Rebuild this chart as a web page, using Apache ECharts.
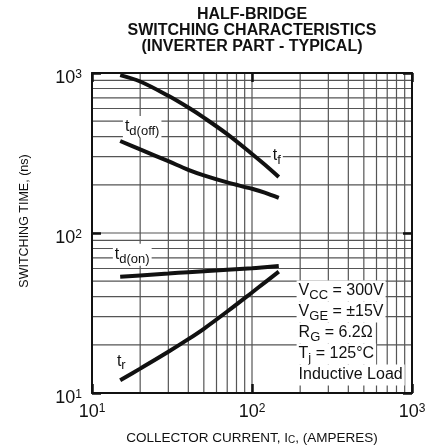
<!DOCTYPE html>
<html><head><meta charset="utf-8">
<script src="https://cdn.jsdelivr.net/npm/echarts@6/dist/echarts.min.js"></script>
<style>html,body{margin:0;padding:0;background:#fff}#c{width:438px;height:445px}</style>
</head><body><div id="c"></div>
<script>
const FONT = '"Liberation Sans", Arial, Helvetica, sans-serif';

// axes
const xRange = [10, 1000];
const yRange = [10, 1000];
const tickValues = [10, 100, 1000];
const tickExponents = ['1', '2', '3'];
const gridValues = [20, 30, 40, 50, 60, 70, 80, 90, 100, 200, 300, 400, 500, 600, 700, 800, 900];

// data (collector current in A, switching time in ns)
const current = [15, 20, 30, 40, 50, 70, 100, 120, 147];
const tf    = [970, 885, 720, 608, 526, 415, 312, 268, 224];
const tdoff = [376, 333, 281, 248, 229, 207, 189, 179, 166];
const tdon  = [53.3, 54.3, 55.8, 56.9, 57.7, 58.9, 60.2, 61.1, 62.2];
const tr    = [12.0, 14.2, 18.1, 21.7, 25.2, 32.3, 42.5, 49.0, 57.3];

const curveLabels = [
  { main: 't', sub: 'd(off)', at: [15.6, 460] },
  { main: 't', sub: 'f',      at: [131, 305] },
  { main: 't', sub: 'd(on)',  at: [13.5, 73.2] },
  { main: 't', sub: 'r',      at: [13.9, 15.8] }
];
const conditions = [
  ['V', 'CC', ' = 300V'],
  ['V', 'GE', ' = \u00b115V'],
  ['R', 'G', ' = 6.2\u03a9'],
  ['T', 'j', ' = 125\u00b0C'],
  ['Inductive Load', '', '']
];
const conditionsAt = [190, 43.4];

const chart = echarts.init(document.getElementById('c'), null, { renderer: 'canvas' });

function tickFmt(value) {
  const i = tickValues.findIndex(v => Math.abs(Math.log10(v) - Math.log10(value)) < 1e-6);
  return '{b|10}{s|' + (i >= 0 ? tickExponents[i] : '') + '}';
}
const richTick = {
  b: { fontSize: 18, lineHeight: 18, verticalAlign: 'bottom', fontFamily: FONT, color: '#111' },
  s: { fontSize: 12, lineHeight: 12, verticalAlign: 'top', fontFamily: FONT, color: '#111' }
};
const axisBase = (pos) => ({
  type: 'log', logBase: 10, min: pos === 'x' ? xRange[0] : yRange[0], max: pos === 'x' ? xRange[1] : yRange[1],
  z: 3,
  axisLine: { show: true, lineStyle: { color: '#111', width: 2 } },
  axisTick: { show: true, inside: true, length: 9, lineStyle: { color: '#111', width: 2.5 } },
  splitLine: { show: false },
  minorTick: { show: false },
  minorSplitLine: { show: false }
});

function gridSeries(vertical) {
  return {
    type: 'custom', z: 1, silent: true, clip: false,
    xAxisIndex: 0, yAxisIndex: 0,
    data: gridValues.map(v => vertical ? [v, yRange[0]] : [xRange[0], v]),
    renderItem: (params, api) => {
      const v = api.value(vertical ? 0 : 1);
      const p1 = vertical ? api.coord([v, yRange[0]]) : api.coord([xRange[0], v]);
      const p2 = vertical ? api.coord([v, yRange[1]]) : api.coord([xRange[1], v]);
      return { type: 'line', shape: { x1: p1[0], y1: p1[1], x2: p2[0], y2: p2[1] },
               style: { stroke: '#555', lineWidth: 1.2 } };
    }
  };
}
function curve(name, values) {
  return {
    name, type: 'line', z: 4, xAxisIndex: 0, yAxisIndex: 0,
    data: current.map((x, i) => [x, values[i]]),
    showSymbol: false, symbol: 'none', smooth: 0.35,
    lineStyle: { color: '#111', width: 4, cap: 'butt' },
    silent: true, animation: false
  };
}

chart.setOption({
  animation: false,
  backgroundColor: '#fff',
  grid: { left: 92, right: 26, top: 73, bottom: 52, containLabel: false, show: false },
  xAxis: [
    Object.assign(axisBase('x'), { position: 'bottom',
      axisLabel: { show: true, margin: 10, formatter: tickFmt, rich: richTick } }),
    Object.assign(axisBase('x'), { position: 'top', axisLabel: { show: false } })
  ],
  yAxis: [
    Object.assign(axisBase('y'), { position: 'left',
      axisLabel: { show: true, margin: 10, padding: [10, 0, 0, 0], formatter: tickFmt, rich: richTick } }),
    Object.assign(axisBase('y'), { position: 'right', axisLabel: { show: false } })
  ],
  series: [
    gridSeries(true), gridSeries(false),
    curve('tf', tf), curve('tdoff', tdoff), curve('tdon', tdon), curve('tr', tr)
  ]
});

const graphics = [];
graphics.push({
  type: 'text', z: 2, x: 252, y: 30.5,
  style: { text: 'HALF-BRIDGE\nSWITCHING CHARACTERISTICS\n(INVERTER PART - TYPICAL)',
    fontFamily: FONT, fontSize: 16, fontWeight: 'bold', lineHeight: 16, fill: '#111',
    align: 'center', verticalAlign: 'middle' }
});
graphics.push({
  type: 'text', z: 2, x: 25, y: 221, rotation: Math.PI / 2,
  style: { text: 'SWITCHING TIME, (ns)', fontFamily: FONT, fontSize: 12.5, fill: '#111',
    align: 'center', verticalAlign: 'middle' }
});
graphics.push({
  type: 'text', z: 2, x: 252, y: 438,
  style: { text: '{m|COLLECTOR CURRENT, I}{s|C}{m|, (AMPERES)}',
    rich: { m: { fontFamily: FONT, fontSize: 13.5, lineHeight: 14, fill: '#111' },
            s: { fontFamily: FONT, fontSize: 10, lineHeight: 8, verticalAlign: 'bottom', fill: '#111' } },
    align: 'center', verticalAlign: 'middle' }
});
curveLabels.forEach(l => {
  const p = chart.convertToPixel({ xAxisIndex: 0, yAxisIndex: 0 }, l.at);
  graphics.push({
    type: 'text', z: 2, x: p[0], y: p[1],
    style: { text: '{m|' + l.main + '}{s|' + l.sub + '}',
      rich: { m: { fontFamily: FONT, fontSize: 16, lineHeight: 22, fill: '#111' },
              s: { fontFamily: FONT, fontSize: 13, lineHeight: 13, verticalAlign: 'bottom', fill: '#111' } },
      backgroundColor: '#fff', padding: [0, 2, 0, 2], align: 'left', verticalAlign: 'middle' }
  });
});
const cp = chart.convertToPixel({ xAxisIndex: 0, yAxisIndex: 0 }, conditionsAt);
conditions.forEach((c, i) => {
  let txt = '{m|' + c[0] + '}';
  if (c[1]) txt += '{s|' + c[1] + '}';
  if (c[2]) txt += '{m|' + c[2] + '}';
  graphics.push({
    type: 'text', z: 2, x: cp[0], y: cp[1] + i * 21,
    style: { text: txt,
      rich: { m: { fontFamily: FONT, fontSize: 16, lineHeight: 21, fill: '#111' },
              s: { fontFamily: FONT, fontSize: 13, lineHeight: 10, verticalAlign: 'bottom', fill: '#111' } },
      backgroundColor: '#fff', padding: [0, 2, 0, 2], align: 'left', verticalAlign: 'middle' }
  });
});
chart.setOption({ graphic: graphics });
</script>
</body></html>
